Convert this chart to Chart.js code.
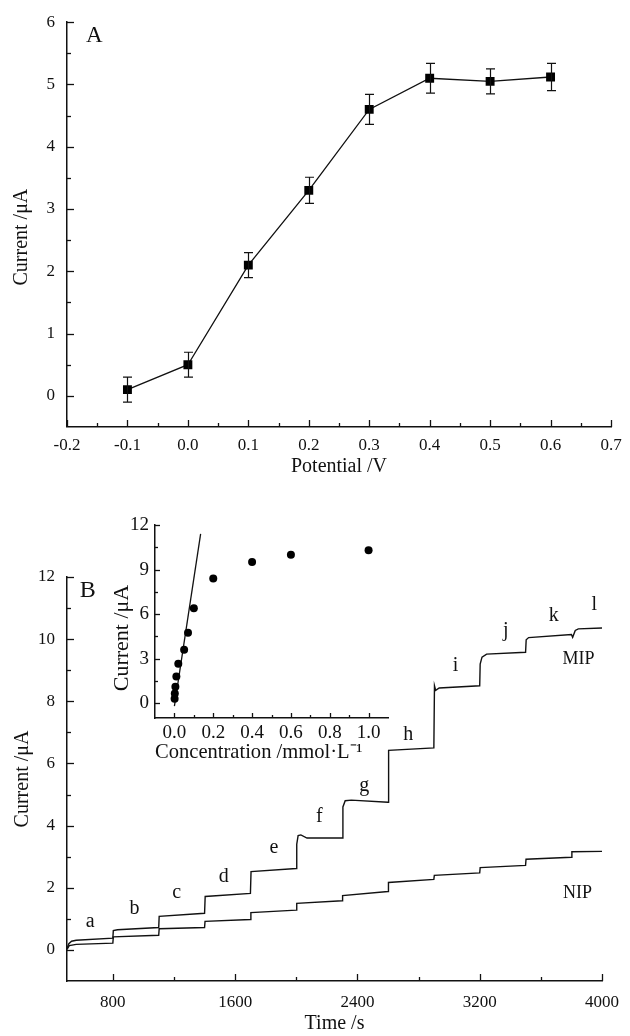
<!DOCTYPE html>
<html><head><meta charset="utf-8">
<script src="https://cdn.jsdelivr.net/npm/chart.js@4.4.1/dist/chart.umd.min.js"></script>
<style>
html,body{margin:0;padding:0;background:#fff;}
#wrap{position:relative;width:630px;height:1036px;background:#fff;}
canvas{position:absolute;left:0;top:0;}
</style></head><body>
<div id="wrap">
<canvas id="cA" width="630" height="1036"></canvas>
<canvas id="cB" width="630" height="1036"></canvas>
<canvas id="cI" width="630" height="1036"></canvas>
</div>
<script>
// ---------- Panel A data ----------
const potential = [-0.1, 0.0, 0.1, 0.2, 0.3, 0.4, 0.5, 0.6];
const currentA = [0.1, 0.5, 2.1, 3.3, 4.6, 5.1, 5.05, 5.12];
const errorA = [0.2, 0.2, 0.2, 0.21, 0.24, 0.24, 0.2, 0.22];
const aXTicks = [-0.2, -0.1, 0.0, 0.1, 0.2, 0.3, 0.4, 0.5, 0.6, 0.7];
const aXMinor = [-0.15, -0.05, 0.05, 0.15, 0.25, 0.35, 0.45, 0.55, 0.65];
const aYTicks = [0, 1, 2, 3, 4, 5, 6];
const aYMinor = [0.5, 1.5, 2.5, 3.5, 4.5, 5.5];

// ---------- Panel B data ----------
const mipTime = [500, 512, 530, 560, 800, 803, 830, 1100, 1103, 1400, 1404, 1700, 1704, 2000, 2003, 2012, 2030, 2070, 2300, 2305, 2320, 2360, 2600, 2604, 2900, 2904, 2912, 2935, 3200, 3203, 3215, 3245, 3500, 3504, 3520, 3800, 3808, 3825, 3845, 4000];
const mipCurrent = [0.05, 0.2, 0.28, 0.31, 0.38, 0.62, 0.65, 0.72, 1.08, 1.18, 1.72, 1.82, 2.52, 2.62, 3.4, 3.68, 3.7, 3.6, 3.6, 4.6, 4.8, 4.82, 4.75, 6.42, 6.5, 8.5, 8.35, 8.43, 8.5, 9.2, 9.42, 9.52, 9.58, 9.98, 10.05, 10.15, 10.06, 10.28, 10.33, 10.36];
const nipTime = [500, 515, 560, 800, 803, 1100, 1103, 1400, 1403, 1700, 1703, 2000, 2003, 2300, 2303, 2600, 2603, 2900, 2903, 3200, 3203, 3500, 3503, 3800, 3803, 4000];
const nipCurrent = [0.02, 0.14, 0.18, 0.22, 0.42, 0.47, 0.68, 0.72, 0.92, 0.98, 1.2, 1.28, 1.5, 1.58, 1.75, 1.88, 2.17, 2.27, 2.4, 2.48, 2.65, 2.72, 2.92, 2.98, 3.16, 3.17];
const bXTicks = [800, 1600, 2400, 3200, 4000];
const bXMinor = [1200, 2000, 2800, 3600];
const bYTicks = [0, 2, 4, 6, 8, 10, 12];
const bYMinor = [1, 3, 5, 7, 9, 11];
const stepLabels = ['a', 'b', 'c', 'd', 'e', 'f', 'g', 'h', 'i', 'j', 'k', 'l'];
const stepLabelTime = [652, 941, 1218, 1526, 1854, 2150, 2445, 2732, 3042, 3370, 3685, 3950];
const stepLabelCurrent = [0.74, 1.16, 1.68, 2.19, 3.13, 4.13, 5.1, 6.77, 8.97, 10.1, 10.58, 10.94];

// ---------- Inset data ----------
const concentration = [0.001, 0.002, 0.005, 0.01, 0.02, 0.05, 0.07, 0.1, 0.2, 0.4, 0.6, 1.0];
const insetCurrent = [0.3, 0.65, 1.1, 1.8, 2.65, 3.6, 4.75, 6.4, 8.4, 9.5, 10.0, 10.3];
const fitConc = [0.0, 0.135];
const fitCurrent = [-0.2, 11.4];
const iXTicks = [0.0, 0.2, 0.4, 0.6, 0.8, 1.0];
const iXMinor = [0.1, 0.3, 0.5, 0.7, 0.9];
const iYTicks = [0, 3, 6, 9, 12];
const iYMinor = [1.5, 4.5, 7.5, 10.5];

const SERIF = '"Liberation Serif", "Times New Roman", serif';
const INK = '#111';
const pts = (xs, ys) => xs.map((x, i) => ({x: x, y: ys[i]}));

// ---------- plugin factories (closures, so arrays are not resolved as indexable options) ----------
function tickPlugin(cfg) {
  return {
    id: 'inTicks',
    afterDraw(chart) {
      const ctx = chart.ctx, xs = chart.scales.x, ys = chart.scales.y;
      ctx.save();
      ctx.strokeStyle = INK; ctx.lineWidth = 1.3;
      const xt = (list, len) => list.forEach(v => {
        const p = Math.round(xs.getPixelForValue(v)) + 0.5;
        ctx.beginPath(); ctx.moveTo(p, xs.top); ctx.lineTo(p, xs.top - len); ctx.stroke();
      });
      const yt = (list, len) => list.forEach(v => {
        const p = Math.round(ys.getPixelForValue(v)) + 0.5;
        ctx.beginPath(); ctx.moveTo(ys.right, p); ctx.lineTo(ys.right + len, p); ctx.stroke();
      });
      xt(cfg.xMajor, cfg.major); xt(cfg.xMinor, cfg.minor);
      yt(cfg.yMajor, cfg.major); yt(cfg.yMinor, cfg.minor);
      ctx.restore();
    }
  };
}
function errorPlugin(err, cap) {
  return {
    id: 'errorBars',
    afterDatasetsDraw(chart) {
      const ctx = chart.ctx, xs = chart.scales.x, ys = chart.scales.y;
      const ds = chart.data.datasets[0].data;
      ctx.save();
      ctx.strokeStyle = INK; ctx.lineWidth = 1.2;
      ds.forEach((d, i) => {
        const px = Math.round(xs.getPixelForValue(d.x)) + 0.5;
        const t = ys.getPixelForValue(d.y + err[i]);
        const b = ys.getPixelForValue(d.y - err[i]);
        ctx.beginPath();
        ctx.moveTo(px, t); ctx.lineTo(px, b);
        ctx.moveTo(px - cap, t); ctx.lineTo(px + cap, t);
        ctx.moveTo(px - cap, b); ctx.lineTo(px + cap, b);
        ctx.stroke();
      });
      ctx.restore();
    }
  };
}
function textPlugin(items) {
  return {
    id: 'texts',
    afterDatasetsDraw(chart) {
      const ctx = chart.ctx, xs = chart.scales.x, ys = chart.scales.y;
      ctx.save();
      ctx.fillStyle = INK;
      ctx.textAlign = 'center';
      ctx.textBaseline = 'alphabetic';
      items.forEach(it => {
        ctx.font = it.font;
        ctx.fillText(it.text, xs.getPixelForValue(it.x), ys.getPixelForValue(it.y));
      });
      ctx.restore();
    }
  };
}

function axis(o) {
  return {
    type: 'linear', min: o.min, max: o.max,
    afterBuildTicks: s => { s.ticks = o.ticks.map(v => ({value: v})); },
    afterFit: s => { if (o.h !== undefined) s.height = o.h; if (o.w !== undefined) s.width = o.w; },
    ticks: {callback: o.fmt, font: {family: SERIF, size: o.fs}, color: INK, padding: o.pad, maxRotation: 0, autoSkip: false},
    grid: {display: false, drawOnChartArea: false, drawTicks: false},
    border: {display: true, color: INK, width: 1.5},
    title: {display: true, text: o.title, font: {family: SERIF, size: o.tfs}, color: INK, padding: o.tpad}
  };
}
const base = {responsive: false, animation: false, devicePixelRatio: 1, events: []};
const noLegend = {legend: {display: false}, tooltip: {enabled: false}};

// ---------- Chart A ----------
new Chart(document.getElementById('cA'), {
  type: 'line',
  data: {datasets: [{
    data: pts(potential, currentA), borderColor: INK, borderWidth: 1.3, tension: 0,
    pointStyle: 'rect', pointRadius: 6.3, pointBackgroundColor: '#000', pointBorderColor: '#000', pointBorderWidth: 0
  }]},
  options: Object.assign({}, base, {
    layout: {padding: {left: 0, right: 19, top: 22, bottom: 556}},
    plugins: noLegend,
    scales: {
      x: axis({min: -0.2, max: 0.7, ticks: aXTicks, fmt: v => v.toFixed(1), fs: 17, pad: 8, h: 53,
               title: 'Potential /V', tfs: 20, tpad: {top: 0, bottom: 1}}),
      y: axis({min: -0.5, max: 6, ticks: aYTicks, fmt: v => String(v), fs: 17, pad: 12, w: 67,
               title: 'Current /\u03BCA' + '\u00A0'.repeat(5), tfs: 20, tpad: {top: 10, bottom: 0}})
    }
  }),
  plugins: [
    tickPlugin({xMajor: aXTicks, xMinor: aXMinor, yMajor: aYTicks, yMinor: aYMinor, major: 7, minor: 4}),
    errorPlugin(errorA, 4.5),
    textPlugin([{text: 'A', x: -0.155, y: 5.69, font: '23px ' + SERIF}])
  ]
});

// ---------- Chart B ----------
const bItems = stepLabels.map((t, i) => ({text: t, x: stepLabelTime[i], y: stepLabelCurrent[i], font: '20px ' + SERIF}));
bItems.push({text: 'MIP', x: 3846, y: 9.2, font: '18px ' + SERIF});
bItems.push({text: 'NIP', x: 3840, y: 1.68, font: '18px ' + SERIF});
bItems.push({text: 'B', x: 635, y: 11.35, font: '24px ' + SERIF});
new Chart(document.getElementById('cB'), {
  type: 'line',
  data: {datasets: [
    {data: pts(mipTime, mipCurrent), borderColor: INK, borderWidth: 1.4, tension: 0, pointRadius: 0},
    {data: pts(nipTime, nipCurrent), borderColor: INK, borderWidth: 1.4, tension: 0, pointRadius: 0}
  ]},
  options: Object.assign({}, base, {
    layout: {padding: {left: 0, right: 19, top: 577, bottom: 0}},
    plugins: noLegend,
    scales: {
      x: axis({min: 500, max: 4000, ticks: bXTicks, fmt: v => String(v), fs: 17, pad: 11, h: 55,
               title: 'Time /s', tfs: 20, tpad: {top: 0, bottom: 0}}),
      y: axis({min: -1, max: 12, ticks: bYTicks, fmt: v => String(v), fs: 17, pad: 12, w: 67,
               title: 'Current /\u03BCA', tfs: 20, tpad: {top: 11, bottom: 0}})
    }
  }),
  plugins: [
    tickPlugin({xMajor: bXTicks, xMinor: bXMinor, yMajor: bYTicks, yMinor: bYMinor, major: 7, minor: 4}),
    textPlugin(bItems)
  ]
});

// ---------- Inset ----------
new Chart(document.getElementById('cI'), {
  type: 'line',
  data: {datasets: [
    {data: pts(concentration, insetCurrent), showLine: false, pointStyle: 'circle', pointRadius: 4,
     pointBackgroundColor: '#000', pointBorderColor: '#000', pointBorderWidth: 0},
    {data: pts(fitConc, fitCurrent), borderColor: INK, borderWidth: 1.3, tension: 0, pointRadius: 0}
  ]},
  options: Object.assign({}, base, {
    layout: {padding: {left: 100, right: 242, top: 525, bottom: 266}},
    plugins: noLegend,
    scales: {
      x: axis({min: -0.1, max: 1.1, ticks: iXTicks, fmt: v => v.toFixed(1), fs: 19, pad: 4, h: 52,
               title: 'Concentration /mmol\u00B7L\u207B\u00B9' + '\u00A0'.repeat(5), tfs: 22, tpad: {top: 0, bottom: 5}}),
      y: axis({min: -1, max: 12, ticks: iYTicks, fmt: v => String(v), fs: 19, pad: 6, w: 55,
               title: 'Current /\u03BCA' + '\u00A0'.repeat(6), tfs: 22, tpad: {top: 9, bottom: 0}})
    }
  }),
  plugins: [
    tickPlugin({xMajor: iXTicks, xMinor: iXMinor, yMajor: iYTicks, yMinor: iYMinor, major: 5, minor: 3})
  ]
});
</script>
</body></html>
